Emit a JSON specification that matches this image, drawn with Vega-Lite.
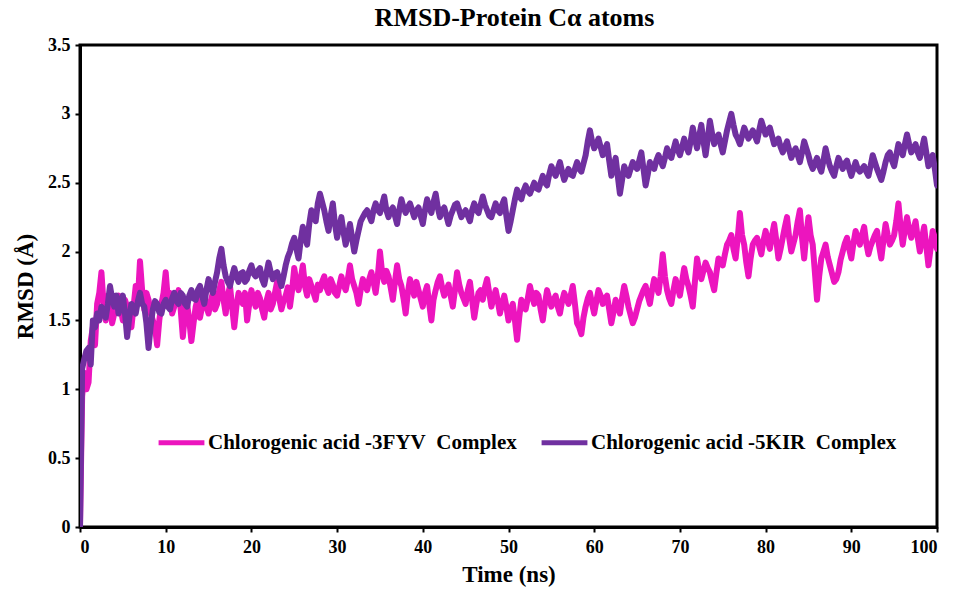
{
  "$schema": "https://vega.github.io/schema/vega-lite/v6.json",
  "width": 857,
  "height": 482,
  "autosize": {"type": "none"},
  "padding": {"left": 80, "top": 45, "right": 17, "bottom": 63},
  "background": "white",
  "title": {
    "text": "RMSD-Protein Cα atoms",
    "font": "Liberation Serif",
    "fontSize": 26,
    "fontWeight": "bold",
    "color": "black",
    "anchor": "middle",
    "dx": 6,
    "offset": 5
  },
  "config": {
    "view": {"stroke": "black", "strokeWidth": 3},
    "axis": {
      "grid": false,
      "domainColor": "black",
      "domainWidth": 3,
      "tickColor": "black",
      "tickWidth": 2,
      "tickSize": 5,
      "labelFont": "Liberation Serif",
      "labelFontWeight": "bold",
      "labelFontSize": 18,
      "labelColor": "black",
      "titleFont": "Liberation Serif",
      "titleFontWeight": "bold",
      "titleFontSize": 23,
      "titleColor": "black"
    }
  },
  "data": {
    "values": [
      {"t":0,"a":0,"b":0},{"t":0.25,"a":0.95,"b":1.15},{"t":0.5,"a":1.12,"b":1.22},{"t":0.75,"a":1.0,"b":1.28},{"t":1,"a":1.05,"b":1.3},{"t":1.25,"a":1.35,"b":1.18},{"t":1.5,"a":1.45,"b":1.5},{"t":1.75,"a":1.32,"b":1.45},
      {"t":2,"a":1.62,"b":1.55},{"t":2.25,"a":1.7,"b":1.5},{"t":2.5,"a":1.85,"b":1.6},{"t":2.75,"a":1.62,"b":1.55},{"t":3,"a":1.5,"b":1.52},{"t":3.25,"a":1.68,"b":1.62},{"t":3.5,"a":1.62,"b":1.75},{"t":3.75,"a":1.48,"b":1.66},
      {"t":4,"a":1.55,"b":1.6},{"t":4.25,"a":1.62,"b":1.68},{"t":4.5,"a":1.68,"b":1.55},{"t":4.75,"a":1.58,"b":1.62},{"t":5,"a":1.5,"b":1.68},{"t":5.25,"a":1.65,"b":1.55},{"t":5.5,"a":1.6,"b":1.38},{"t":5.75,"a":1.52,"b":1.52},
      {"t":6,"a":1.45,"b":1.62},{"t":6.25,"a":1.6,"b":1.58},{"t":6.5,"a":1.75,"b":1.55},{"t":6.75,"a":1.65,"b":1.64},{"t":7,"a":1.93,"b":1.7},{"t":7.25,"a":1.72,"b":1.62},{"t":7.5,"a":1.58,"b":1.6},{"t":7.75,"a":1.7,"b":1.48},
      {"t":8,"a":1.65,"b":1.3},{"t":8.25,"a":1.55,"b":1.46},{"t":8.5,"a":1.5,"b":1.58},{"t":8.75,"a":1.45,"b":1.64},{"t":9,"a":1.32,"b":1.62},{"t":9.25,"a":1.5,"b":1.56},{"t":9.5,"a":1.62,"b":1.55},{"t":9.75,"a":1.7,"b":1.62},
      {"t":10,"a":1.85,"b":1.65},{"t":10.25,"a":1.65,"b":1.6},{"t":10.5,"a":1.7,"b":1.58},{"t":10.75,"a":1.55,"b":1.66},{"t":11,"a":1.6,"b":1.7},{"t":11.25,"a":1.66,"b":1.64},{"t":11.5,"a":1.72,"b":1.62},{"t":11.75,"a":1.58,"b":1.7},
      {"t":12,"a":1.38,"b":1.68},{"t":12.25,"a":1.55,"b":1.62},{"t":12.5,"a":1.62,"b":1.6},{"t":12.75,"a":1.5,"b":1.68},{"t":13,"a":1.35,"b":1.72},{"t":13.25,"a":1.48,"b":1.66},{"t":13.5,"a":1.6,"b":1.65},{"t":13.75,"a":1.66,"b":1.72},
      {"t":14,"a":1.52,"b":1.75},{"t":14.25,"a":1.6,"b":1.68},{"t":14.5,"a":1.68,"b":1.62},{"t":14.75,"a":1.6,"b":1.72},{"t":15,"a":1.55,"b":1.8},{"t":15.25,"a":1.64,"b":1.74},{"t":15.5,"a":1.7,"b":1.7},{"t":15.75,"a":1.58,"b":1.78},
      {"t":16,"a":1.62,"b":1.85},{"t":16.25,"a":1.72,"b":1.95},{"t":16.5,"a":1.78,"b":2.02},{"t":16.75,"a":1.65,"b":1.9},{"t":17,"a":1.55,"b":1.82},{"t":17.25,"a":1.68,"b":1.78},{"t":17.5,"a":1.75,"b":1.75},{"t":17.75,"a":1.6,"b":1.82},
      {"t":18,"a":1.45,"b":1.88},{"t":18.25,"a":1.6,"b":1.82},{"t":18.5,"a":1.7,"b":1.78},{"t":18.75,"a":1.66,"b":1.84},{"t":19,"a":1.62,"b":1.85},{"t":19.25,"a":1.7,"b":1.78},{"t":19.5,"a":1.5,"b":1.8},{"t":19.75,"a":1.62,"b":1.86},
      {"t":20,"a":1.72,"b":1.9},{"t":20.25,"a":1.65,"b":1.84},{"t":20.5,"a":1.6,"b":1.82},{"t":20.75,"a":1.7,"b":1.86},{"t":21,"a":1.66,"b":1.88},{"t":21.25,"a":1.58,"b":1.8},{"t":21.5,"a":1.52,"b":1.76},{"t":21.75,"a":1.64,"b":1.84},
      {"t":22,"a":1.7,"b":1.92},{"t":22.25,"a":1.58,"b":1.85},{"t":22.5,"a":1.62,"b":1.8},{"t":22.75,"a":1.7,"b":1.84},{"t":23,"a":1.78,"b":1.85},{"t":23.25,"a":1.66,"b":1.8},{"t":23.5,"a":1.58,"b":1.75},{"t":23.75,"a":1.64,"b":1.82},
      {"t":24,"a":1.68,"b":1.9},{"t":24.25,"a":1.74,"b":1.96},{"t":24.5,"a":1.6,"b":2.0},{"t":24.75,"a":1.72,"b":2.06},{"t":25,"a":1.88,"b":2.1},{"t":25.25,"a":1.78,"b":2.02},{"t":25.5,"a":1.72,"b":1.95},{"t":25.75,"a":1.8,"b":2.08},
      {"t":26,"a":1.9,"b":2.18},{"t":26.25,"a":1.75,"b":2.1},{"t":26.5,"a":1.68,"b":2.05},{"t":26.75,"a":1.8,"b":2.2},{"t":27,"a":1.75,"b":2.3},{"t":27.25,"a":1.7,"b":2.26},{"t":27.5,"a":1.65,"b":2.22},{"t":27.75,"a":1.76,"b":2.35},
      {"t":28,"a":1.72,"b":2.42},{"t":28.25,"a":1.78,"b":2.36},{"t":28.5,"a":1.82,"b":2.3},{"t":28.75,"a":1.74,"b":2.22},{"t":29,"a":1.7,"b":2.15},{"t":29.25,"a":1.8,"b":2.26},{"t":29.5,"a":1.76,"b":2.35},{"t":29.75,"a":1.7,"b":2.2},
      {"t":30,"a":1.68,"b":2.1},{"t":30.25,"a":1.75,"b":2.18},{"t":30.5,"a":1.82,"b":2.25},{"t":30.75,"a":1.76,"b":2.14},{"t":31,"a":1.72,"b":2.05},{"t":31.25,"a":1.8,"b":2.12},{"t":31.5,"a":1.9,"b":2.2},{"t":31.75,"a":1.8,"b":2.1},
      {"t":32,"a":1.75,"b":2.0},{"t":32.25,"a":1.7,"b":2.08},{"t":32.5,"a":1.62,"b":2.15},{"t":32.75,"a":1.72,"b":2.22},{"t":33,"a":1.8,"b":2.25},{"t":33.25,"a":1.76,"b":2.28},{"t":33.5,"a":1.72,"b":2.3},{"t":33.75,"a":1.8,"b":2.26},
      {"t":34,"a":1.85,"b":2.22},{"t":34.25,"a":1.78,"b":2.3},{"t":34.5,"a":1.7,"b":2.35},{"t":34.75,"a":1.82,"b":2.3},{"t":35,"a":2.0,"b":2.28},{"t":35.25,"a":1.85,"b":2.34},{"t":35.5,"a":1.78,"b":2.4},{"t":35.75,"a":1.86,"b":2.3},
      {"t":36,"a":1.82,"b":2.25},{"t":36.25,"a":1.74,"b":2.3},{"t":36.5,"a":1.65,"b":2.32},{"t":36.75,"a":1.78,"b":2.26},{"t":37,"a":1.9,"b":2.2},{"t":37.25,"a":1.8,"b":2.3},{"t":37.5,"a":1.75,"b":2.38},{"t":37.75,"a":1.66,"b":2.32},
      {"t":38,"a":1.55,"b":2.28},{"t":38.25,"a":1.7,"b":2.32},{"t":38.5,"a":1.8,"b":2.35},{"t":38.75,"a":1.74,"b":2.3},{"t":39,"a":1.68,"b":2.25},{"t":39.25,"a":1.78,"b":2.3},{"t":39.5,"a":1.72,"b":2.32},{"t":39.75,"a":1.66,"b":2.26},
      {"t":40,"a":1.6,"b":2.2},{"t":40.25,"a":1.7,"b":2.3},{"t":40.5,"a":1.75,"b":2.38},{"t":40.75,"a":1.62,"b":2.32},{"t":41,"a":1.5,"b":2.28},{"t":41.25,"a":1.65,"b":2.36},{"t":41.5,"a":1.72,"b":2.42},{"t":41.75,"a":1.78,"b":2.32},
      {"t":42,"a":1.82,"b":2.25},{"t":42.25,"a":1.74,"b":2.3},{"t":42.5,"a":1.68,"b":2.32},{"t":42.75,"a":1.72,"b":2.26},{"t":43,"a":1.76,"b":2.2},{"t":43.25,"a":1.68,"b":2.26},{"t":43.5,"a":1.6,"b":2.3},{"t":43.75,"a":1.72,"b":2.34},
      {"t":44,"a":1.85,"b":2.35},{"t":44.25,"a":1.76,"b":2.3},{"t":44.5,"a":1.7,"b":2.25},{"t":44.75,"a":1.66,"b":2.28},{"t":45,"a":1.62,"b":2.3},{"t":45.25,"a":1.72,"b":2.26},{"t":45.5,"a":1.78,"b":2.22},{"t":45.75,"a":1.65,"b":2.3},
      {"t":46,"a":1.52,"b":2.35},{"t":46.25,"a":1.62,"b":2.3},{"t":46.5,"a":1.7,"b":2.28},{"t":46.75,"a":1.72,"b":2.34},{"t":47,"a":1.65,"b":2.4},{"t":47.25,"a":1.74,"b":2.34},{"t":47.5,"a":1.8,"b":2.3},{"t":47.75,"a":1.7,"b":2.26},
      {"t":48,"a":1.6,"b":2.25},{"t":48.25,"a":1.66,"b":2.3},{"t":48.5,"a":1.72,"b":2.35},{"t":48.75,"a":1.64,"b":2.3},{"t":49,"a":1.55,"b":2.28},{"t":49.25,"a":1.62,"b":2.34},{"t":49.5,"a":1.68,"b":2.38},{"t":49.75,"a":1.6,"b":2.26},
      {"t":50,"a":1.5,"b":2.15},{"t":50.25,"a":1.58,"b":2.22},{"t":50.5,"a":1.62,"b":2.3},{"t":50.75,"a":1.5,"b":2.38},{"t":51,"a":1.36,"b":2.45},{"t":51.25,"a":1.52,"b":2.4},{"t":51.5,"a":1.65,"b":2.38},{"t":51.75,"a":1.62,"b":2.44},
      {"t":52,"a":1.58,"b":2.48},{"t":52.25,"a":1.66,"b":2.44},{"t":52.5,"a":1.75,"b":2.42},{"t":52.75,"a":1.68,"b":2.46},{"t":53,"a":1.62,"b":2.5},{"t":53.25,"a":1.7,"b":2.46},{"t":53.5,"a":1.68,"b":2.45},{"t":53.75,"a":1.58,"b":2.5},
      {"t":54,"a":1.5,"b":2.55},{"t":54.25,"a":1.62,"b":2.5},{"t":54.5,"a":1.72,"b":2.48},{"t":54.75,"a":1.66,"b":2.56},{"t":55,"a":1.6,"b":2.62},{"t":55.25,"a":1.65,"b":2.58},{"t":55.5,"a":1.68,"b":2.55},{"t":55.75,"a":1.6,"b":2.6},
      {"t":56,"a":1.55,"b":2.65},{"t":56.25,"a":1.64,"b":2.58},{"t":56.5,"a":1.7,"b":2.52},{"t":56.75,"a":1.66,"b":2.56},{"t":57,"a":1.62,"b":2.6},{"t":57.25,"a":1.68,"b":2.56},{"t":57.5,"a":1.75,"b":2.55},{"t":57.75,"a":1.62,"b":2.6},
      {"t":58,"a":1.48,"b":2.65},{"t":58.25,"a":1.45,"b":2.6},{"t":58.5,"a":1.4,"b":2.58},{"t":58.75,"a":1.52,"b":2.64},{"t":59,"a":1.6,"b":2.7},{"t":59.25,"a":1.66,"b":2.8},{"t":59.5,"a":1.7,"b":2.88},{"t":59.75,"a":1.62,"b":2.8},
      {"t":60,"a":1.55,"b":2.75},{"t":60.25,"a":1.64,"b":2.78},{"t":60.5,"a":1.72,"b":2.82},{"t":60.75,"a":1.68,"b":2.76},{"t":61,"a":1.62,"b":2.7},{"t":61.25,"a":1.66,"b":2.74},{"t":61.5,"a":1.68,"b":2.78},{"t":61.75,"a":1.58,"b":2.66},
      {"t":62,"a":1.48,"b":2.55},{"t":62.25,"a":1.56,"b":2.62},{"t":62.5,"a":1.65,"b":2.68},{"t":62.75,"a":1.6,"b":2.55},{"t":63,"a":1.55,"b":2.42},{"t":63.25,"a":1.66,"b":2.52},{"t":63.5,"a":1.75,"b":2.62},{"t":63.75,"a":1.68,"b":2.58},
      {"t":64,"a":1.6,"b":2.55},{"t":64.25,"a":1.54,"b":2.6},{"t":64.5,"a":1.48,"b":2.65},{"t":64.75,"a":1.52,"b":2.62},{"t":65,"a":1.58,"b":2.6},{"t":65.25,"a":1.64,"b":2.66},{"t":65.5,"a":1.68,"b":2.72},{"t":65.75,"a":1.72,"b":2.6},
      {"t":66,"a":1.75,"b":2.48},{"t":66.25,"a":1.68,"b":2.56},{"t":66.5,"a":1.62,"b":2.65},{"t":66.75,"a":1.72,"b":2.62},{"t":67,"a":1.8,"b":2.6},{"t":67.25,"a":1.75,"b":2.66},{"t":67.5,"a":1.7,"b":2.7},{"t":67.75,"a":1.82,"b":2.66},
      {"t":68,"a":1.98,"b":2.62},{"t":68.25,"a":1.82,"b":2.68},{"t":68.5,"a":1.72,"b":2.75},{"t":68.75,"a":1.66,"b":2.7},{"t":69,"a":1.62,"b":2.68},{"t":69.25,"a":1.72,"b":2.74},{"t":69.5,"a":1.8,"b":2.8},{"t":69.75,"a":1.74,"b":2.74},
      {"t":70,"a":1.68,"b":2.7},{"t":70.25,"a":1.78,"b":2.76},{"t":70.5,"a":1.88,"b":2.82},{"t":70.75,"a":1.8,"b":2.76},{"t":71,"a":1.75,"b":2.72},{"t":71.25,"a":1.68,"b":2.8},{"t":71.5,"a":1.6,"b":2.9},{"t":71.75,"a":1.78,"b":2.82},
      {"t":72,"a":1.95,"b":2.75},{"t":72.25,"a":1.86,"b":2.84},{"t":72.5,"a":1.8,"b":2.92},{"t":72.75,"a":1.86,"b":2.8},{"t":73,"a":1.92,"b":2.7},{"t":73.25,"a":1.88,"b":2.82},{"t":73.5,"a":1.85,"b":2.95},{"t":73.75,"a":1.78,"b":2.86},
      {"t":74,"a":1.72,"b":2.78},{"t":74.25,"a":1.84,"b":2.82},{"t":74.5,"a":1.95,"b":2.85},{"t":74.75,"a":1.92,"b":2.78},{"t":75,"a":1.9,"b":2.72},{"t":75.25,"a":1.98,"b":2.8},{"t":75.5,"a":2.05,"b":2.88},{"t":75.75,"a":2.08,"b":2.94},
      {"t":76,"a":2.12,"b":3.0},{"t":76.25,"a":2.02,"b":2.92},{"t":76.5,"a":1.95,"b":2.85},{"t":76.75,"a":2.1,"b":2.82},{"t":77,"a":2.28,"b":2.78},{"t":77.25,"a":2.12,"b":2.84},{"t":77.5,"a":2.05,"b":2.9},{"t":77.75,"a":1.92,"b":2.86},
      {"t":78,"a":1.82,"b":2.82},{"t":78.25,"a":1.95,"b":2.85},{"t":78.5,"a":2.05,"b":2.88},{"t":78.75,"a":2.08,"b":2.84},{"t":79,"a":2.1,"b":2.8},{"t":79.25,"a":2.04,"b":2.88},{"t":79.5,"a":1.98,"b":2.95},{"t":79.75,"a":2.08,"b":2.9},
      {"t":80,"a":2.15,"b":2.85},{"t":80.25,"a":2.08,"b":2.88},{"t":80.5,"a":2.02,"b":2.9},{"t":80.75,"a":2.12,"b":2.84},{"t":81,"a":2.2,"b":2.78},{"t":81.25,"a":2.08,"b":2.8},{"t":81.5,"a":1.95,"b":2.82},{"t":81.75,"a":2.02,"b":2.76},
      {"t":82,"a":2.1,"b":2.72},{"t":82.25,"a":2.18,"b":2.76},{"t":82.5,"a":2.25,"b":2.8},{"t":82.75,"a":2.1,"b":2.74},{"t":83,"a":2.0,"b":2.68},{"t":83.25,"a":2.06,"b":2.72},{"t":83.5,"a":2.12,"b":2.75},{"t":83.75,"a":2.22,"b":2.7},
      {"t":84,"a":2.3,"b":2.65},{"t":84.25,"a":2.1,"b":2.72},{"t":84.5,"a":1.95,"b":2.8},{"t":84.75,"a":2.12,"b":2.75},{"t":85,"a":2.25,"b":2.7},{"t":85.25,"a":2.12,"b":2.64},{"t":85.5,"a":2.05,"b":2.6},{"t":85.75,"a":1.85,"b":2.64},
      {"t":86,"a":1.65,"b":2.68},{"t":86.25,"a":1.82,"b":2.62},{"t":86.5,"a":1.95,"b":2.58},{"t":86.75,"a":2.0,"b":2.66},{"t":87,"a":2.05,"b":2.75},{"t":87.25,"a":1.96,"b":2.68},{"t":87.5,"a":1.9,"b":2.62},{"t":87.75,"a":1.84,"b":2.58},
      {"t":88,"a":1.78,"b":2.55},{"t":88.25,"a":1.8,"b":2.62},{"t":88.5,"a":1.85,"b":2.68},{"t":88.75,"a":1.94,"b":2.64},{"t":89,"a":2.0,"b":2.6},{"t":89.25,"a":2.06,"b":2.64},{"t":89.5,"a":2.1,"b":2.66},{"t":89.75,"a":2.02,"b":2.6},
      {"t":90,"a":1.95,"b":2.55},{"t":90.25,"a":2.06,"b":2.6},{"t":90.5,"a":2.15,"b":2.65},{"t":90.75,"a":2.1,"b":2.6},{"t":91,"a":2.05,"b":2.58},{"t":91.25,"a":2.12,"b":2.6},{"t":91.5,"a":2.18,"b":2.62},{"t":91.75,"a":2.06,"b":2.58},
      {"t":92,"a":1.98,"b":2.55},{"t":92.25,"a":2.04,"b":2.62},{"t":92.5,"a":2.08,"b":2.7},{"t":92.75,"a":2.12,"b":2.65},{"t":93,"a":2.15,"b":2.6},{"t":93.25,"a":2.04,"b":2.56},{"t":93.5,"a":1.95,"b":2.52},{"t":93.75,"a":2.08,"b":2.58},
      {"t":94,"a":2.2,"b":2.65},{"t":94.25,"a":2.12,"b":2.7},{"t":94.5,"a":2.05,"b":2.72},{"t":94.75,"a":2.08,"b":2.66},{"t":95,"a":2.12,"b":2.62},{"t":95.25,"a":2.22,"b":2.7},{"t":95.5,"a":2.35,"b":2.78},{"t":95.75,"a":2.18,"b":2.74},
      {"t":96,"a":2.05,"b":2.7},{"t":96.25,"a":2.16,"b":2.78},{"t":96.5,"a":2.25,"b":2.85},{"t":96.75,"a":2.16,"b":2.78},{"t":97,"a":2.1,"b":2.72},{"t":97.25,"a":2.16,"b":2.75},{"t":97.5,"a":2.22,"b":2.78},{"t":97.75,"a":2.1,"b":2.72},
      {"t":98,"a":2.0,"b":2.68},{"t":98.25,"a":2.1,"b":2.75},{"t":98.5,"a":2.18,"b":2.82},{"t":98.75,"a":2.04,"b":2.72},{"t":99,"a":1.9,"b":2.62},{"t":99.25,"a":2.02,"b":2.66},{"t":99.5,"a":2.15,"b":2.7},{"t":99.75,"a":2.1,"b":2.6},
      {"t":100,"a":2.02,"b":2.48}
    ]
  },
  "transform": [{"fold": ["a", "b"], "as": ["series", "rmsd"]}],
  "mark": {"type": "line", "strokeWidth": 6, "strokeJoin": "round", "strokeCap": "round", "clip": true},
  "encoding": {
    "x": {
      "field": "t",
      "type": "quantitative",
      "title": "Time (ns)",
      "scale": {"domain": [0, 100], "nice": false},
      "axis": {"values": [0,10,20,30,40,50,60,70,80,90,100], "labelPadding": 6, "titlePadding": 7}
    },
    "y": {
      "field": "rmsd",
      "type": "quantitative",
      "title": "RMSD (Å)",
      "scale": {"domain": [0, 3.5], "nice": false},
      "axis": {"values": [0,0.5,1,1.5,2,2.5,3,3.5], "format": "~g", "labelPadding": 5, "titlePadding": 10}
    },
    "color": {
      "field": "series",
      "type": "nominal",
      "scale": {"domain": ["a", "b"], "range": ["#EC15BE", "#7030A0"]},
      "legend": {
        "title": null,
        "orient": "none",
        "legendX": 76,
        "legendY": 372,
        "direction": "horizontal",
        "symbolType": "stroke",
        "symbolSize": 2100,
        "symbolStrokeWidth": 5,
        "labelFont": "Liberation Serif",
        "labelFontWeight": "bold",
        "labelFontSize": 21,
        "labelColor": "black",
        "labelOffset": 1,
        "columnPadding": 14,
        "labelLimit": 400,
        "labelExpr": "datum.value == 'a' ? 'Chlorogenic acid -3FYV\u00a0 Complex' : 'Chlorogenic acid -5KIR\u00a0 Complex'"
      }
    }
  }
}
